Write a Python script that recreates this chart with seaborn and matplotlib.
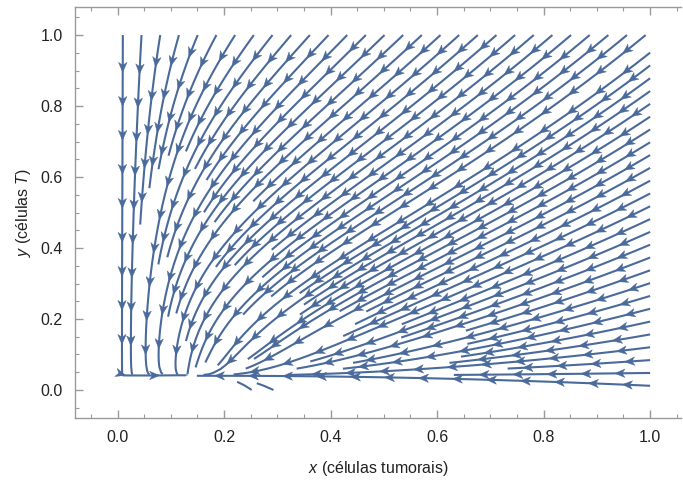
import numpy as np
import matplotlib
matplotlib.use("Agg")
import matplotlib.pyplot as plt
from matplotlib.patches import Polygon
import seaborn as sns

# ---- model parameters (vector field of the phase portrait) ----
tumor_eq = 0.13      # x value of the stable node
tcell_eq = 0.04      # y value of the stable node
kill_self = 0.5      # tumor self-limitation
kill_by_t = 4.6      # tumor killed by T cells
sat_h = 0.2          # saturation constant of tumor dynamics
t_decay = 1.0        # T cell relaxation rate
t_crowd = 5.0        # T cell crowding

x_vals = np.linspace(0.0, 1.0, 101)
y_vals = np.linspace(0.0, 1.0, 101)

x_ticks = [0.0, 0.2, 0.4, 0.6, 0.8, 1.0]
y_ticks = [0.0, 0.2, 0.4, 0.6, 0.8, 1.0]
tick_labels = ["0.0", "0.2", "0.4", "0.6", "0.8", "1.0"]

sns.set_theme(style="white")
plt.rcParams["font.family"] = ["Liberation Sans", "DejaVu Sans"]
plt.rcParams["mathtext.fontset"] = "custom"
plt.rcParams["mathtext.it"] = "Liberation Sans:italic"
plt.rcParams["mathtext.rm"] = "Liberation Sans"

X, Y = np.meshgrid(x_vals, y_vals)
hill = X ** 2 / (sat_h ** 2 + X ** 2)
U = -(kill_self * (X - tumor_eq) + kill_by_t * Y * (Y - tcell_eq)) * hill
V = -t_decay * (Y - tcell_eq) * (1 + t_crowd * Y ** 2)

fig = plt.figure(figsize=(6.83, 4.84), dpi=100)
ax = fig.add_axes([75/683, 66/484, (681-75)/683, (477-66)/484])
ax.set_xlim(-0.0798, 1.058)
ax.set_ylim(-0.0789, 1.079)

# seed streamlines on the top, right and bottom edges of the domain
top_x = np.arange(0.01, 0.999, 0.035)
top_seeds = np.column_stack([top_x, np.full(len(top_x), 0.998)])
right_y = np.arange(0.012, 0.97, 0.036)
right_seeds = np.column_stack([np.full(len(right_y), 0.998), right_y])
bot_x = np.arange(0.01, 0.3, 0.04)
bot_seeds = np.column_stack([bot_x, np.full(len(bot_x), 0.002)])
seeds = np.vstack([top_seeds, right_seeds, bot_seeds])

color = "#4A6A9B"
sp = ax.streamplot(X, Y, U, V, color=color, linewidth=1.5, density=2.0,
                   arrowstyle="-", minlength=0.02, start_points=seeds)
for p in ax.patches[:]:
    p.remove()

# rebuild the trajectories from the streamplot output and add arrowheads
segs = [np.asarray(s) for s in sp.lines.get_segments()]
trajs = []
cur = None
for s in segs:
    if len(s) > 2:
        if cur is not None:
            trajs.append(np.array(cur))
            cur = None
        trajs.append(s)
        continue
    if cur is not None and np.allclose(s[0], cur[-1]):
        cur.append(s[1])
    else:
        if cur is not None:
            trajs.append(np.array(cur))
        cur = [s[0], s[1]]
if cur is not None:
    trajs.append(np.array(cur))

fig.canvas.draw()
to_px = ax.transData
inv = to_px.inverted()

def px_length(tr):
    p = to_px.transform(tr)
    return np.hypot(np.diff(p[:, 0]), np.diff(p[:, 1])).sum()

trajs = [t for t in trajs if len(t) > 1 and px_length(t) >= 8]
sp.lines.set_segments(trajs)

spacing = 34.0
head_len = 10.0
head_w = 8.5
for tr in trajs:
    pix = to_px.transform(tr)
    d = np.hypot(np.diff(pix[:, 0]), np.diff(pix[:, 1]))
    cum = np.concatenate([[0], np.cumsum(d)])
    total = cum[-1]
    if total < 20:
        continue
    n = max(1, int(total // spacing))
    start = (total - (n - 1) * spacing) / 2.0 + head_len / 2
    for k in range(n):
        pos = min(start + k * spacing, total)
        back = max(pos - 4, 0)
        tip = np.array([np.interp(pos, cum, pix[:, 0]), np.interp(pos, cum, pix[:, 1])])
        ref = np.array([np.interp(back, cum, pix[:, 0]), np.interp(back, cum, pix[:, 1])])
        v = tip - ref
        nv = np.hypot(*v)
        if nv < 1e-6:
            continue
        u = v / nv
        perp = np.array([-u[1], u[0]])
        pts = np.array([tip,
                        tip - head_len * u + head_w / 2 * perp,
                        tip - 0.72 * head_len * u,
                        tip - head_len * u - head_w / 2 * perp])
        ax.add_patch(Polygon(inv.transform(pts), closed=True, facecolor=color,
                             edgecolor=color, lw=0.3, zorder=3))

ax.set_xticks(x_ticks)
ax.set_xticklabels(tick_labels)
ax.set_yticks(y_ticks)
ax.set_yticklabels(tick_labels)
ax.set_xticks(np.arange(-0.05, 1.06, 0.05), minor=True)
ax.set_yticks(np.arange(-0.05, 1.06, 0.05), minor=True)

spine_c = "#9a9a9a"
for s in ["left", "bottom", "top"]:
    ax.spines[s].set_color(spine_c)
    ax.spines[s].set_linewidth(1.0)
ax.spines["right"].set_visible(False)

ax.tick_params(which="both", direction="in", color=spine_c,
               top=True, bottom=True, left=True, right=False,
               labelsize=11.5, labelcolor="#222222")
ax.tick_params(which="major", length=6, width=1.0, pad=9)
ax.tick_params(which="minor", length=3, width=0.8)

ax.set_xlabel("$x$ (células tumorais)", fontsize=11.5, color="#222222", labelpad=10)
ax.set_ylabel("$y$ (células $T$)", fontsize=11.5, color="#222222", labelpad=5)

fig.savefig("out.png", dpi=100)
